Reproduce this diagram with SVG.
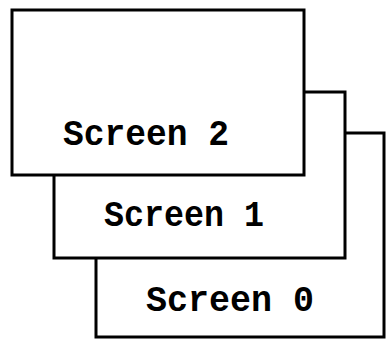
<svg xmlns="http://www.w3.org/2000/svg" width="387" height="340" viewBox="0 0 387 340">
<style>
.scr{fill:#fff;stroke:#000;stroke-width:3}
.lbl{font-family:"Liberation Mono",monospace;font-weight:bold;font-size:37px;fill:#000}
</style>
<rect width="387" height="340" fill="#fff"/>
<g id="screen0"><rect class="scr" x="96" y="133" width="288" height="204"/><text class="lbl" x="146" y="311" textLength="168" lengthAdjust="spacingAndGlyphs">Screen 0</text></g>
<g id="screen1"><rect class="scr" x="54" y="92" width="291" height="166"/><text class="lbl" x="104" y="226" textLength="160" lengthAdjust="spacingAndGlyphs">Screen 1</text></g>
<g id="screen2"><rect class="scr" x="12" y="10" width="292" height="165"/><text class="lbl" x="63" y="145" textLength="166" lengthAdjust="spacingAndGlyphs">Screen 2</text></g>
<g id="connectors"/>
</svg>
